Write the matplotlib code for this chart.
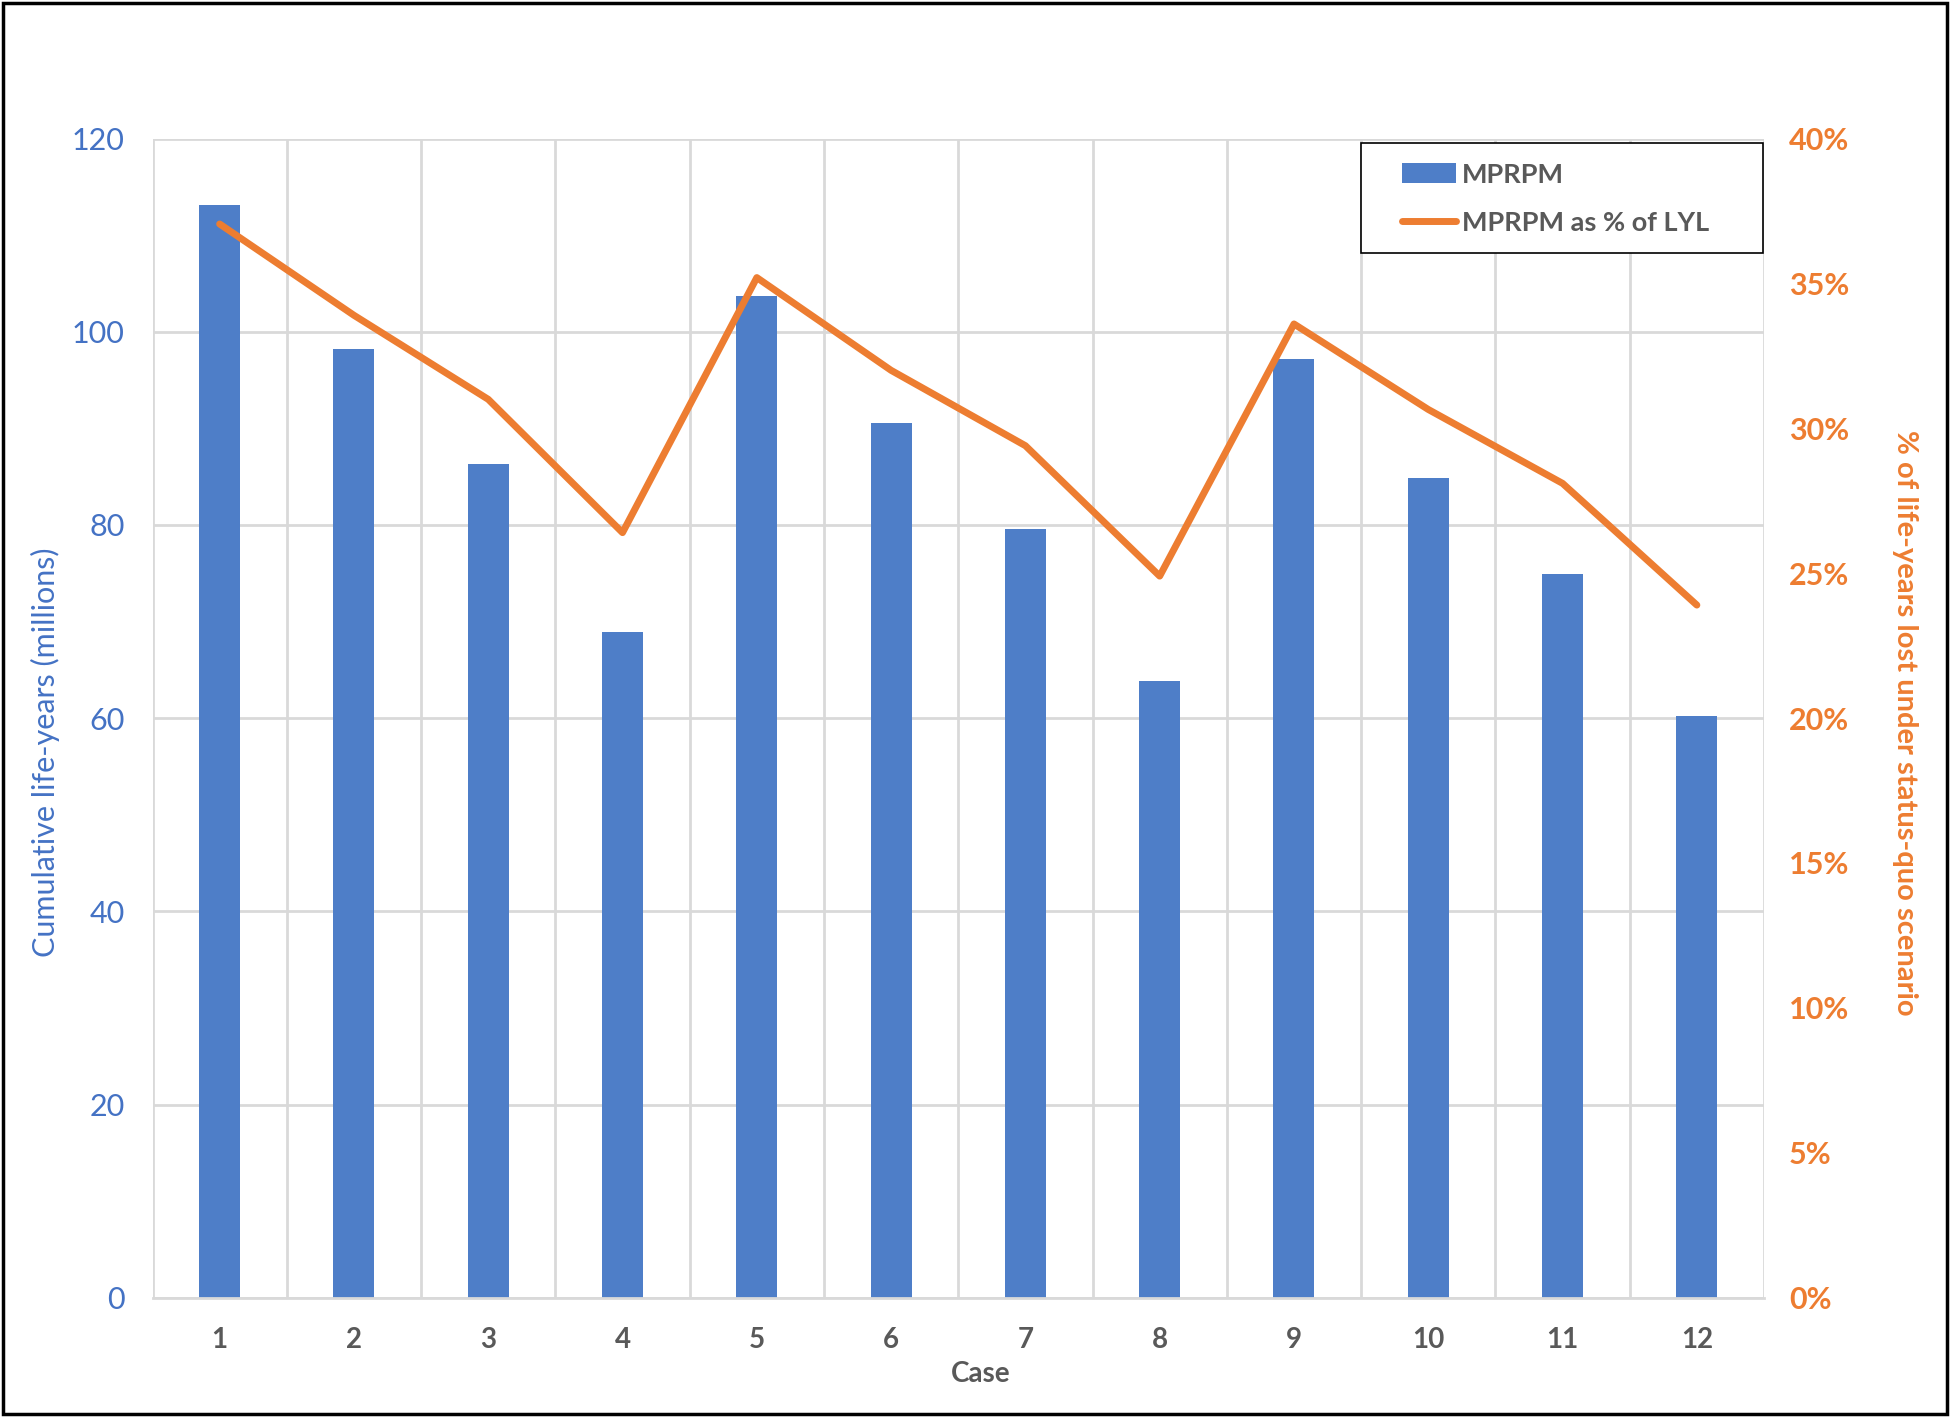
import matplotlib
matplotlib.use("Agg")
import matplotlib.pyplot as plt
from matplotlib.patches import Rectangle
from matplotlib.ticker import FuncFormatter, MultipleLocator, FixedLocator

# ---- data ----
cases = [1, 2, 3, 4, 5, 6, 7, 8, 9, 10, 11, 12]
case_labels = [str(c) for c in cases]
mprpm = [113.1, 98.2, 86.3, 68.9, 103.7, 90.5, 79.6, 63.8, 97.2, 84.9, 74.9, 60.2]
mprpm_pct = [37.05, 33.9, 31.0, 26.4, 35.2, 32.0, 29.4, 24.9, 33.6, 30.65, 28.1, 23.9]
bar_label = "MPRPM"
line_label = "MPRPM as % of LYL"
left_ylabel = "Cumulative life-years (millions)"
right_ylabel = "% of life-years lost under status-quo scenario"
xlabel = "Case"

BLUE = "#4E7EC8"
BLUE_TXT = "#4472C4"
ORANGE = "#ED7D31"
GRAY = "#595959"
GRID = "#D9D9D9"

plt.rcParams['font.family'] = ['Lato', 'DejaVu Sans']

fig = plt.figure(figsize=(19.5, 14.17), dpi=100)
W, H = 1950, 1417
left, right, top, bottom = 152.5, 1764, 138.5, 1297.7
ax = fig.add_axes([left / W, 1 - bottom / H, (right - left) / W, (bottom - top) / H])

ax.bar(cases, mprpm, width=0.305, color=BLUE, label=bar_label, zorder=2)
ax.set_xlim(0.5, 12.5)
ax.set_ylim(0, 120)
ax.yaxis.set_major_locator(MultipleLocator(20))
ax.set_xticks(cases)
ax.set_xticklabels(case_labels)
ax.xaxis.set_minor_locator(FixedLocator([c + 0.5 for c in [0] + cases]))
ax.set_axisbelow(True)
ax.grid(axis='y', which='major', color=GRID, linewidth=2.0)
ax.grid(axis='x', which='minor', color=GRID, linewidth=2.0)
for s in ['top', 'right', 'left']:
    ax.spines[s].set_visible(False)
ax.spines['bottom'].set_color(GRID)
ax.spines['bottom'].set_linewidth(2.0)
ax.tick_params(axis='both', which='both', length=0)
ax.tick_params(axis='y', labelsize=22, labelcolor=BLUE_TXT, pad=20)
ax.tick_params(axis='x', labelsize=20, labelcolor=GRAY, pad=21)
for t in ax.get_xticklabels():
    t.set_fontweight('bold')

ax2 = ax.twinx()
ax2.plot(cases, mprpm_pct, color=ORANGE, linewidth=5, label=line_label,
         solid_joinstyle='round', solid_capstyle='round', zorder=3)
ax2.set_ylim(0, 40)
ax2.yaxis.set_major_locator(MultipleLocator(5))
ax2.yaxis.set_major_formatter(FuncFormatter(lambda v, p: f"{v:.0f}%"))
for s in ['top', 'right', 'left', 'bottom']:
    ax2.spines[s].set_visible(False)
ax2.tick_params(axis='y', length=0, labelsize=22, labelcolor=ORANGE, pad=18)
for t in ax2.get_yticklabels():
    t.set_fontweight('bold')

# legend frame (white box above the grid) and legend entries
fig.patches.append(Rectangle((1361 / W, 1 - 253 / H), (1763 - 1361) / W, (253 - 143) / H,
                             transform=fig.transFigure, facecolor='white',
                             edgecolor='black', linewidth=1.2, zorder=4))
h1, l1 = ax.get_legend_handles_labels()
h2, l2 = ax2.get_legend_handles_labels()
leg = fig.legend(h1 + h2, l1 + l2, loc='center left',
                 bbox_to_anchor=(1402 / W, 1 - 198.7 / H), bbox_transform=fig.transFigure,
                 frameon=False, prop={'size': 19.5, 'weight': 'bold'},
                 handlelength=2.0, handleheight=0.75, handletextpad=0.2,
                 labelspacing=0.9, borderpad=0, borderaxespad=0)
leg.set_zorder(5)
for t in leg.get_texts():
    t.set_color(GRAY)

fig.text(45 / W, 1 - 752 / H, left_ylabel, rotation=90, ha='center', va='center',
         fontsize=22, color=BLUE_TXT)
fig.text(1905 / W, 1 - 723 / H, right_ylabel, rotation=-90, ha='center', va='center',
         fontsize=21, color=ORANGE, fontweight='bold')
fig.text(981 / W, 1 - 1374 / H, xlabel, ha='center', va='center',
         fontsize=20, color=GRAY, fontweight='bold')

fig.patches.append(Rectangle((3 / W, 3 / H), 1 - 6 / W, 1 - 6 / H, transform=fig.transFigure,
                             fill=False, edgecolor='black', linewidth=2.5, zorder=6))

fig.savefig("out.png", dpi=100)
